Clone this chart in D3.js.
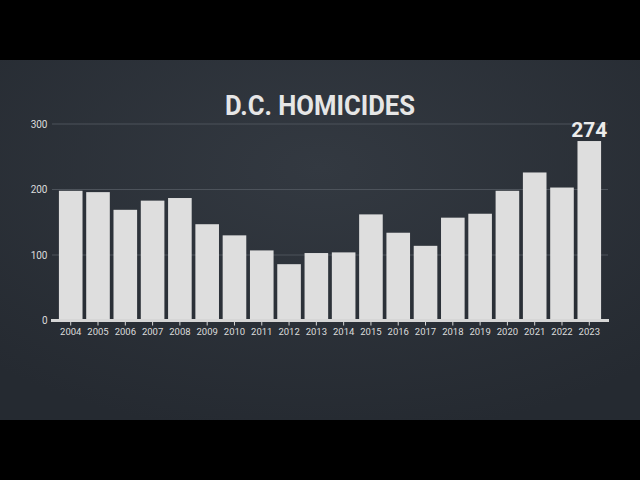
<!DOCTYPE html>
<html>
<head>
<meta charset="utf-8">
<script src="https://cdn.jsdelivr.net/npm/d3@7"></script>
<style>
  html, body { margin: 0; padding: 0; background: #000; }
  svg { display: block; }
</style>
</head>
<body>
<div class="canvas"></div>
<script>
// D.C. homicides per year
const years = ['2004', '2005', '2006', '2007', '2008', '2009', '2010', '2011', '2012', '2013',
  '2014', '2015', '2016', '2017', '2018', '2019', '2020', '2021', '2022', '2023'];
const homicides = [198, 196, 169, 183, 187, 147, 130, 107, 86, 103,
  104, 162, 134, 114, 157, 163, 198, 226, 203, 274];
const yTicks = [0, 100, 200, 300];
const title = 'D.C. HOMICIDES';

const width = 640;
const height = 480;

const svg = d3
  .select('.canvas')
  .append('svg')
  .attr('width', width)
  .attr('height', height);

const defs = svg.append('defs');
const bg = defs
  .append('radialGradient')
  .attr('id', 'bg')
  .attr('cx', '50%')
  .attr('cy', '30%')
  .attr('r', '75%');
bg.append('stop').attr('offset', '0%').attr('stop-color', '#333941');
bg.append('stop').attr('offset', '100%').attr('stop-color', '#252a31');

// letterbox + slate panel
svg.append('rect').attr('width', width).attr('height', height).attr('fill', '#000');
svg
  .append('rect')
  .attr('y', 60)
  .attr('width', width)
  .attr('height', 360)
  .attr('fill', 'url(#bg)');

const x = d3
  .scaleBand()
  .domain(years)
  .range([57, 603])
  .paddingInner(0.135)
  .paddingOuter(0.07);

const y = d3.scaleLinear().domain([0, 300]).range([320.5, 124]);

// gridlines
svg
  .append('g')
  .selectAll('line')
  .data(yTicks.filter(d => d > 0))
  .enter()
  .append('line')
  .attr('x1', 52)
  .attr('x2', 608)
  .attr('y1', d => y(d))
  .attr('y2', d => y(d))
  .attr('stroke', '#4d535b')
  .attr('stroke-width', 1);

// y labels
svg
  .append('g')
  .selectAll('text')
  .data(yTicks)
  .enter()
  .append('text')
  .attr('x', 47.5)
  .attr('y', d => y(d))
  .attr('dy', '0.35em')
  .attr('text-anchor', 'end')
  .attr('font-family', 'Roboto, sans-serif')
  .attr('font-size', 10)
  .attr('fill', '#dcdcdc')
  .text(d => d);

// bars
svg
  .append('g')
  .selectAll('rect')
  .data(homicides)
  .enter()
  .append('rect')
  .attr('x', (d, i) => x(years[i]))
  .attr('y', d => y(d))
  .attr('width', x.bandwidth())
  .attr('height', d => y(0) - y(d))
  .attr('fill', '#dedede');

// x axis
const xAxis = d3.axisBottom(x).tickSize(5).tickSizeOuter(0).tickPadding(3);
const axisG = svg
  .append('g')
  .attr('transform', `translate(0, ${y(0)})`)
  .call(xAxis);
axisG.select('.domain').remove();
axisG.selectAll('line').attr('stroke', '#d6d6d6');
axisG
  .selectAll('text')
  .attr('font-family', 'Roboto, sans-serif')
  .attr('font-size', 9.5)
  .attr('fill', '#dcdcdc');
svg
  .append('rect')
  .attr('x', 51)
  .attr('y', y(0) - 1.5)
  .attr('width', 558)
  .attr('height', 3)
  .attr('fill', '#d6d6d6');

// last value callout
const last = homicides.length - 1;
svg
  .append('text')
  .attr('x', x(years[last]) + x.bandwidth() / 2)
  .attr('y', y(homicides[last]) - 4)
  .attr('text-anchor', 'middle')
  .attr('font-family', 'Roboto, sans-serif')
  .attr('font-weight', 700)
  .attr('font-size', 21)
  .attr('fill', '#ececec')
  .text(homicides[last]);

// title
svg
  .append('text')
  .attr('x', 320)
  .attr('y', 115)
  .attr('text-anchor', 'middle')
  .attr('font-family', 'Roboto, sans-serif')
  .attr('font-weight', 700)
  .attr('font-size', 28)
  .attr('textLength', 190)
  .attr('lengthAdjust', 'spacingAndGlyphs')
  .attr('fill', '#e6e6e6')
  .text(title);
</script>
</body>
</html>
